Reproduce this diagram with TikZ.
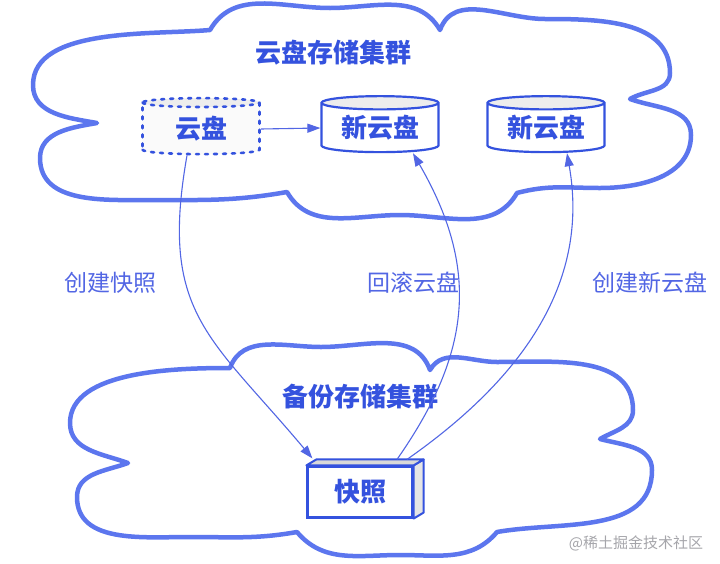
\documentclass[tikz,border=0pt]{standalone}
\usepackage{fontspec}
\newfontfamily\cjk{Noto Sans CJK SC}
\usetikzlibrary{arrows.meta,shapes.geometric}
\definecolor{CLOUD-BLUE}{RGB}{92,118,238}
\definecolor{INK-BLUE}{RGB}{52,82,222}
\definecolor{LINK-BLUE}{RGB}{82,102,228}
\definecolor{MARK-GRAY}{RGB}{165,165,170}

\begin{document}
\begin{tikzpicture}[x=1pt,y=1pt,
  cloudline/.style={draw=CLOUD-BLUE, line width=4.5pt, line join=round, fill=white},
  title/.style={text=INK-BLUE, font=\cjk\fontsize{26}{29}\selectfont\bfseries},
  disk/.style={cylinder, shape border rotate=90, aspect=0.17, draw=INK-BLUE,
    line width=2.2pt, minimum width=117pt, minimum height=56pt, inner sep=0pt,
    cylinder uses custom fill, cylinder end fill=gray!14, cylinder body fill=white,
    text=INK-BLUE, font=\cjk\fontsize{26}{28}\selectfont\bfseries},
  ghostdisk/.style={disk, dash pattern=on 3pt off 6pt, line cap=round, line width=2.6pt,
    cylinder body fill=gray!4},
  snapbox/.style={rectangle, draw=INK-BLUE, line width=2.2pt, fill=white,
    minimum width=105pt, minimum height=51pt,
    text=INK-BLUE, font=\cjk\fontsize{26}{28}\selectfont\bfseries},
  link/.style={draw=LINK-BLUE, line width=1.1pt, -{Triangle[length=13pt,width=9pt]}},
  linklabel/.style={text=LINK-BLUE, font=\cjk\fontsize{23}{26}\selectfont}]
  \useasboundingbox (0,0) rectangle (720,-563);

  % Cloud disk cluster (top cloud)
  \draw[cloudline] (97,-123) to[out=170,in=-90] (33,-85) to[out=90,in=185,looseness=0.8] (210,-30)
    to[out=60,in=180] (330,-8) to[out=0,in=120] (440,-30)
    to[out=70,in=180] (545,-19) to[out=0,in=90] (670,-73) to[out=-90,in=30] (630,-99)
    to[out=-20,in=90] (691,-135) to[out=-90,in=0] (600,-188) to[out=180,in=15] (517,-193)
    to[out=-120,in=0] (400,-215) to[out=180,in=-60] (287,-192)
    to[out=190,in=0] (150,-200) to[out=180,in=-90] (40,-158) to[out=90,in=190] cycle;
  \node[title] (topname) at (333,-53) {云盘存储集群};

  % Backup cluster (bottom cloud)
  \draw[cloudline] (128,-463) to[out=160,in=-90] (70,-423) to[out=90,in=180,looseness=0.8] (230,-368)
    to[out=70,in=180] (321,-347) to[out=0,in=110] (430,-370)
    to[out=60,in=180] (497,-362) to[out=0,in=90] (633,-410) to[out=-90,in=30] (600,-439)
    to[out=-15,in=90] (652,-470) to[out=-90,in=10] (497,-532)
    to[out=-130,in=0] (400,-555) to[out=180,in=-50] (297,-532)
    to[out=190,in=0] (190,-537) to[out=180,in=-90] (77,-497) to[out=90,in=200] cycle;
  \node[title] (botname) at (360,-397) {备份存储集群};

  % Disks
  \node[ghostdisk] (oldisk) at (201,-129) {云盘};
  \node[disk] (newdiska) at (380,-128) {新云盘};
  \node[disk] (newdiskb) at (546,-128) {新云盘};
  \draw[link] (oldisk.east) -- (newdiska.west);

  % Snapshot box with a bit of depth
  \node[snapbox] (snap) at (360,-492) {快照};
  \fill[gray!20, draw=INK-BLUE, line width=2pt, line join=round]
    (snap.north east) -- ++(10,6) -- ([shift={(10,6)}]snap.south east) -- (snap.south east) -- cycle;
  \fill[gray!30, draw=INK-BLUE, line width=2pt, line join=round]
    (snap.north west) -- ++(10,6) -- ([shift={(10,6)}]snap.north east) -- (snap.north east) -- cycle;

  % Operations
  \draw[link] ([xshift=-14pt]oldisk.south) to[out=-100,in=130,looseness=1.25] ([xshift=6pt,yshift=7pt]snap.north west);
  \draw[link] ([xshift=37pt,yshift=6pt]snap.north) to[out=55,in=-60,looseness=1.1] ([xshift=33pt]newdiska.south);
  \draw[link] ([xshift=47pt,yshift=6pt]snap.north) to[out=35,in=-80] ([xshift=21pt]newdiskb.south);
  \node[linklabel] (lblsnap) at (110,-283) {创建快照};
  \node[linklabel] (lblroll) at (413,-283) {回滚云盘};
  \node[linklabel] (lblnew) at (650,-283) {创建新云盘};

  \node[text=MARK-GRAY, font=\cjk\fontsize{15}{17}\selectfont] (wm) at (636,-543) {@稀土掘金技术社区};
\end{tikzpicture}
\end{document}
